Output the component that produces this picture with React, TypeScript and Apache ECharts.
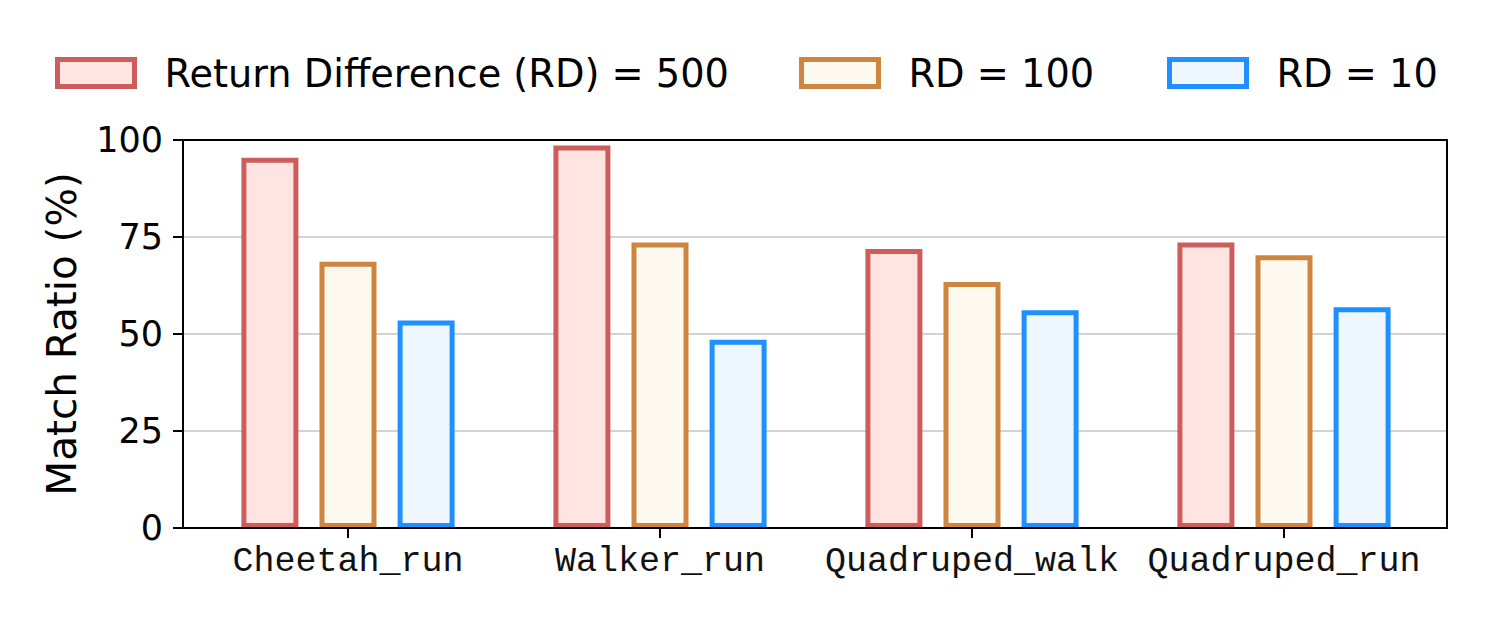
import React, { useEffect, useRef } from "react";
import * as echarts from "echarts";

const categories = ["Cheetah_run", "Walker_run", "Quadruped_walk", "Quadruped_run"];
const seriesNames = ["Return Difference (RD) = 500", "RD = 100", "RD = 10"];
const rd500 = [95.4, 98.6, 71.9, 73.6];
const rd100 = [68.6, 73.6, 63.4, 70.3];
const rd10 = [53.5, 48.5, 56.1, 56.9];
const yTicks = [0, 25, 50, 75, 100];

const borderColors = ["#CD5C5C", "#CD853F", "#1E90FF"];
const fillColors = ["#FFE4E1", "#FEF9EE", "#EEF6FE"];

export default function App() {
  const ref = useRef<HTMLDivElement>(null);
  useEffect(() => {
    if (!ref.current) return;
    const chart = echarts.init(ref.current, null, { renderer: "svg" });
    const values = [rd500, rd100, rd10];
    const legendLefts = [55, 799, 1167];
    const frameAxis = (position: string) => ({
      type: "value",
      gridIndex: 0,
      position,
      min: 0,
      max: 1,
      z: 5,
      axisLine: { show: true, onZero: false, lineStyle: { color: "#000", width: 2 } },
      axisTick: { show: false },
      axisLabel: { show: false },
      splitLine: { show: false },
    });
    const option: any = {
      animation: false,
      backgroundColor: "#ffffff",
      textStyle: { fontFamily: "DejaVu Sans" },
      legend: seriesNames.map((n, i) => ({
        data: [n],
        left: legendLefts[i],
        top: 53,
        padding: 0,
        itemWidth: 77,
        itemHeight: 27,
        selectedMode: false,
        icon: "rect",
        itemStyle: { borderWidth: 5 },
        textStyle: {
          fontFamily: "DejaVu Sans",
          fontSize: 38.3,
          color: "#000",
          lineHeight: 40,
          padding: [0, 0, 0, 25],
        },
      })),
      grid: [
        { left: 183, right: 47, top: 140, bottom: 91 },
        { left: 192, right: 54, top: 140, bottom: 91 },
      ],
      xAxis: [
        frameAxis("bottom"),
        frameAxis("top"),
        {
          type: "category",
          gridIndex: 1,
          data: categories,
          axisLine: { show: false },
          axisTick: {
            show: true,
            alignWithLabel: true,
            length: 10,
            lineStyle: { color: "#000", width: 2 },
          },
          axisLabel: {
            interval: 0,
            fontFamily: "Liberation Mono",
            fontSize: 35,
            color: "#111",
            margin: 16,
          },
        },
      ],
      yAxis: [
        {
          type: "value",
          gridIndex: 0,
          min: yTicks[0],
          max: yTicks[yTicks.length - 1],
          interval: 25,
          name: "Match Ratio (%)",
          nameLocation: "middle",
          nameGap: 101,
          nameTextStyle: { fontFamily: "DejaVu Sans", fontSize: 40.5, color: "#000" },
          axisLine: { show: true, onZero: false, lineStyle: { color: "#000", width: 2 } },
          axisTick: { show: true, length: 10, lineStyle: { color: "#000", width: 2 } },
          axisLabel: { fontFamily: "DejaVu Sans", fontSize: 35, color: "#000", margin: 20 },
          splitLine: { show: true, lineStyle: { color: "#d3d3d3", width: 2 } },
        },
        { ...frameAxis("right"), min: 0, max: 100 },
        { type: "value", gridIndex: 1, min: 0, max: 100, show: false },
      ],
      series: seriesNames.map((n, i) => ({
        name: n,
        type: "bar",
        xAxisIndex: 2,
        yAxisIndex: 2,
        data: values[i],
        barWidth: 57,
        barGap: "37%",
        itemStyle: {
          color: fillColors[i],
          borderColor: borderColors[i],
          borderWidth: 5,
        },
      })),
    };
    chart.setOption(option);
    return () => chart.dispose();
  }, []);
  return <div ref={ref} style={{ width: 1494, height: 619, margin: -8 }} />;
}
